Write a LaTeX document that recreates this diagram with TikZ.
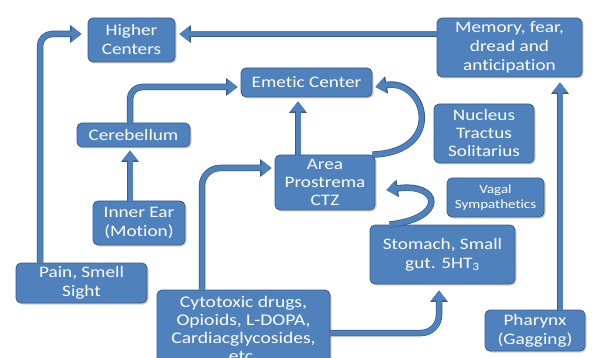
\documentclass[tikz,border=0pt]{standalone}
\usepackage{fontspec}
\setmainfont{Carlito}[FakeStretch=1.2, Ligatures=NoCommon]
\usetikzlibrary{positioning}
\usetikzlibrary{arrows.meta}
\usetikzlibrary{shadows}
\definecolor{boxblue}{RGB}{79,129,189}
\definecolor{boxedge}{RGB}{56,93,138}
\tikzset{
	box/.style={rectangle, rounded corners=5pt, fill=boxblue, draw=boxedge, line width=0.8pt, text=white, align=center, inner sep=0pt,
		font=\fontsize{16}{19}\selectfont, drop shadow={opacity=0.35, shadow xshift=1.5pt, shadow yshift=-1.5pt}},
	arr/.style={draw=boxblue, line width=5pt, rounded corners=12pt, -{Triangle[width=15pt,length=10pt]},
		preaction={draw=boxedge, line width=6.5pt, -{Triangle[width=17pt,length=11.5pt]}}}
}

\begin{document}
\begin{tikzpicture}[x=1pt, y=-1pt]
			\useasboundingbox[fill=white] (0,0) rectangle (594,358);

			% the boxes
			\node[box, minimum width=87pt, minimum height=44pt] (hc) at (131.5,40) {Higher\\Centers};
			\node[box, minimum width=145pt, minimum height=59pt] (mem) at (509.5,47.5) {Memory, fear,\\dread and\\anticipation};
			\node[box, minimum width=131pt, minimum height=29pt] (emc) at (306.5,82.5) {Emetic Center};
			\node[box, minimum width=113pt, minimum height=24pt] (cer) at (133.5,135) {Cerebellum};
			\node[box, minimum width=100pt, minimum height=59pt, font=\fontsize{16}{18}\selectfont] (nts) at (484,133.5) {Nucleus\\Tractus\\Solitarius};
			\node[box, minimum width=100pt, minimum height=55pt, font=\fontsize{16}{18}\selectfont] (ctz) at (325,182.5) {Area\\Prostrema\\CTZ};
			\node[box, minimum width=97pt, minimum height=39pt, font=\fontsize{12.5}{15}\selectfont] (vag) at (495.5,197.5) {Vagal\\Sympathetics};
			\node[box, minimum width=145pt, minimum height=59pt] (sto) at (442.5,254.5) {Stomach, Small\\gut. 5HT\textsubscript{3}};
			\node[box, minimum width=92pt, minimum height=44pt] (ear) at (139,223) {Inner Ear\\(Motion)};
			\node[box, minimum width=131pt, minimum height=40pt] (pain) at (81.5,283) {Pain, Smell\\Sight};
			\node[box, minimum width=173pt, minimum height=78pt, font=\fontsize{16.3}{18}\selectfont] (cyt) at (243.5,329) {Cytotoxic drugs,\\Opioids, L-DOPA,\\Cardiacglycosides,\\etc.};
			\node[box, minimum width=100pt, minimum height=41pt] (pha) at (535,330.5) {Pharynx\\(Gagging)};

			% the arrows
			\draw[arr, shorten >=6pt] (pain.north -| 40,0) |- (hc.west |- 0,34);
			\draw[arr, shorten >=4pt] (mem.west |- 0,34) -- (hc.east |- 0,34);
			\draw[arr, shorten >=5pt] (pha.north -| 560,0) -- (mem.south -| 560,0);
			\draw[arr, shorten >=3pt] (ear.north -| 130,0) -- (cer.south -| 130,0);
			\draw[arr, shorten >=3pt] (cer.north -| 130,0) |- (emc.west |- 0,87);
			\draw[arr, shorten >=4pt] (ctz.north -| 298,0) -- (emc.south -| 298,0);
			\draw[arr, rounded corners=18pt, shorten >=3pt] (cyt.north -| 202,0) |- (ctz.west |- 0,168);
			\draw[arr, rounded corners=18pt, shorten >=6pt] (cyt.east |- 0,333) -| (sto.south -| 439,0);
			\draw[arr, shorten >=3pt] ([xshift=-3pt]ctz.north east) .. controls (446,152) and (426,78) .. ([yshift=-5pt]emc.east);
			\draw[arr, shorten >=3pt] ([xshift=20pt]sto.north west) .. controls (448,218) and (440,182) .. ([xshift=8pt,yshift=-8pt]ctz.east);
\end{tikzpicture}
\end{document}
